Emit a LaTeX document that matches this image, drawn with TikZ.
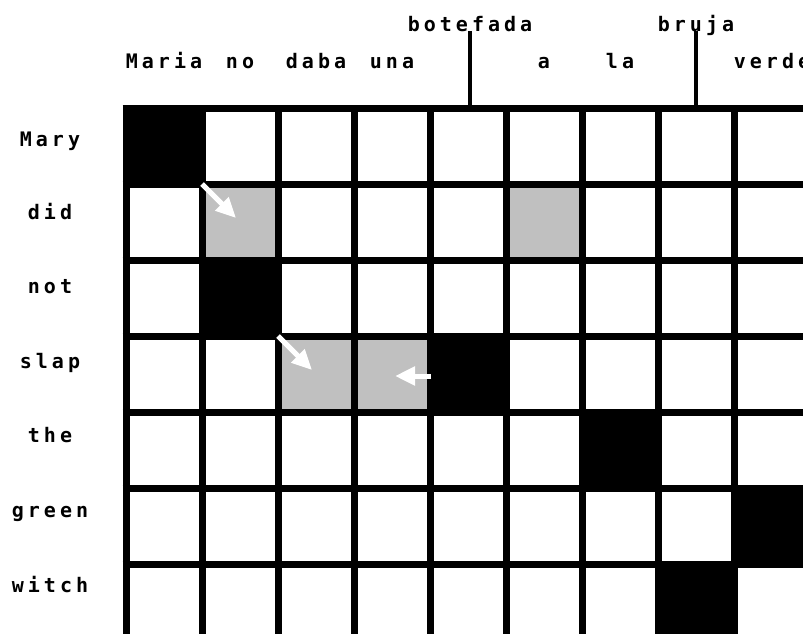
\documentclass[tikz,border=0pt]{standalone}
\usepackage{fontspec}
\newfontfamily\pixfont[LetterSpace=20]{DejaVu Sans Mono}
\usetikzlibrary{arrows.meta}
\definecolor{cellgray}{RGB}{192,192,192}
\begin{document}
\begin{tikzpicture}[x=1pt,y=-1pt,
  lbl/.style={font=\pixfont\bfseries\fontsize{20}{20}\selectfont, inner sep=0pt, anchor=base},
  gridline/.style={line width=7pt, black},
  blackcell/.style={fill=black},
  graycell/.style={fill=cellgray},
  wharrow/.style={white, line width=5pt, -{Triangle[length=20pt,width=18pt]}},
  tick/.style={line width=4pt, black}]
\useasboundingbox (0,0) rectangle (803,634);
\clip (0,0) rectangle (803,634);
\fill[white] (0,0) rectangle (803,634);
% gray cells
\foreach \r/\c in {2/2,2/6,4/3,4/4}
  \fill[graycell] ({126+76*(\c-1)},{108.5+76*(\r-1)}) rectangle ({126+76*\c},{108.5+76*\r});
% grid
\foreach \k in {0,...,8}
  \draw[gridline] ({126+76*\k},105) -- ({126+76*\k},645);
\foreach \k in {0,...,7}
  \draw[gridline] (122.5,{108.5+76*\k}) -- (815,{108.5+76*\k});
% black cells
\foreach \r/\c in {1/1,3/2,4/5,5/7,6/9,7/8}
  \fill[blackcell] ({122.5+76*(\c-1)},{105+76*(\r-1)}) rectangle ({129.5+76*\c},{112+76*\r});
% arrows
\coordinate (a1s) at (202,184); \coordinate (a1e) at (236,218);
\coordinate (a2s) at (278,336); \coordinate (a2e) at (312,370);
\coordinate (a3s) at (431,376); \coordinate (a3e) at (395,376);
\draw[wharrow] (a1s) -- (a1e);
\draw[wharrow] (a2s) -- (a2e);
\draw[wharrow] (a3s) -- (a3e);
% column headers
\node[lbl] (botefada) at (470,32) {botefada};
\node[lbl] (bruja) at (696,32) {bruja};
\node[lbl] (maria) at (164,69) {Maria};
\node[lbl] (no) at (240,69) {no};
\node[lbl] (daba) at (316,69) {daba};
\node[lbl] (una) at (392,69) {una};
\node[lbl] (a) at (544,69) {a};
\node[lbl] (la) at (620,69) {la};
\node[lbl] (verde) at (772,69) {verde};
\coordinate (bt) at (469.5,105);
\coordinate (br) at (696,105);
\draw[tick] ([yshift=1pt]botefada.base -| bt) -- (bt);
\draw[tick] ([yshift=1pt]bruja.base -| br) -- (br);
% row labels
\node[lbl] (mary) at (50,146) {Mary};
\node[lbl] (did) at (50,219) {did};
\node[lbl] (not) at (50,293) {not};
\node[lbl] (slap) at (50,368) {slap};
\node[lbl] (the) at (50,442) {the};
\node[lbl] (green) at (50,517) {green};
\node[lbl] (witch) at (50,592) {witch};
\end{tikzpicture}
\end{document}
